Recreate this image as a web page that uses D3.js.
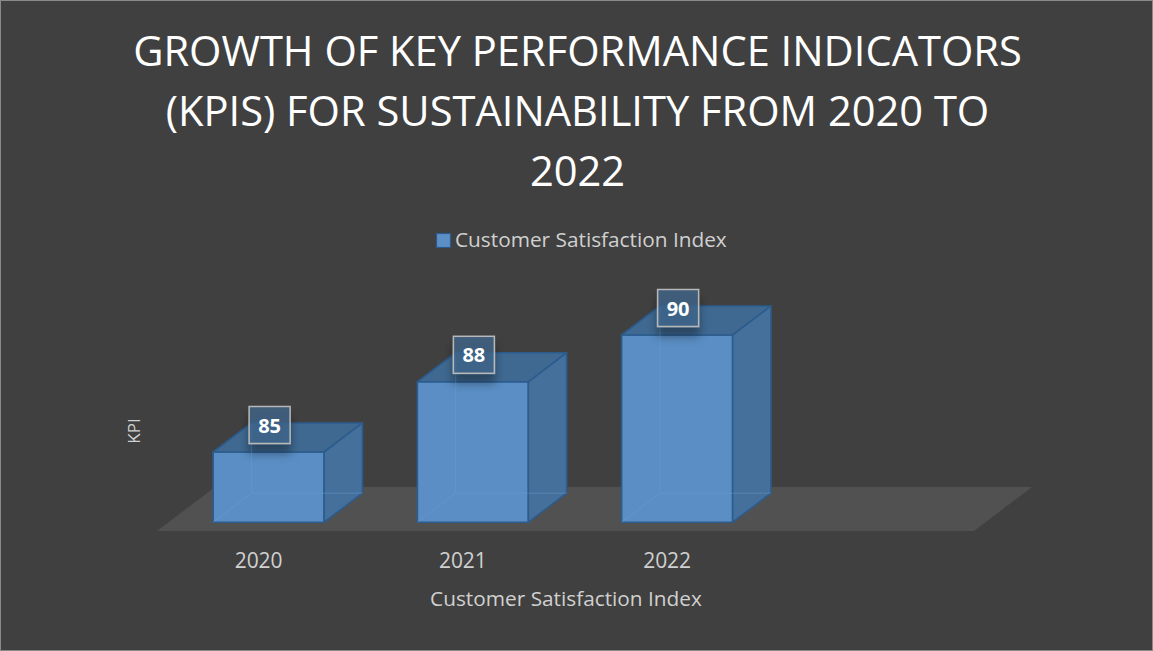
<!DOCTYPE html>
<html>
<head>
<meta charset="utf-8">
<script src="https://cdn.jsdelivr.net/npm/d3@7"></script>
<style>
  html, body { margin: 0; padding: 0; background: #404040; }
  svg { display: block; }
  text { font-family: "Open Sans", "DejaVu Sans", sans-serif; }
</style>
</head>
<body>
<svg id="chart" width="1153" height="651"></svg>
<script>
// ---- data ----
const titleLines = ["GROWTH OF KEY PERFORMANCE INDICATORS", "(KPIS) FOR SUSTAINABILITY FROM 2020 TO", "2022"];
const categories = ["2020", "2021", "2022"];
const values = [85, 88, 90];
const seriesName = "Customer Satisfaction Index";
const xAxisTitle = "Customer Satisfaction Index";
const yAxisTitle = "KPI";
const yDomain = [82, 92];

// ---- layout ----
const W = 1153, H = 651;
const floorLeft = 157, floorFront = 531;
const bandW = 204.25;
const nSlots = 4;
const depthX = 58, depthY = 44;
const d0 = 0.2, d1 = 0.86;
const pxPerUnit = 23.4;

const svg = d3.select("#chart");

const defs = svg.append("defs");
const f = defs.append("filter").attr("id", "shadow").attr("x", "-50%").attr("y", "-50%").attr("width", "200%").attr("height", "250%");
f.append("feDropShadow").attr("dx", 0).attr("dy", 9).attr("stdDeviation", 5).attr("flood-color", "#000").attr("flood-opacity", 0.45);

svg.append("rect").attr("x", 0.5).attr("y", 0.5).attr("width", W - 1).attr("height", H - 1)
  .attr("fill", "#404040").attr("stroke", "#8a8a8a").attr("stroke-width", 1);

const x = d3.scaleBand().domain(categories).range([floorLeft, floorLeft + bandW * categories.length]).paddingInner(0).paddingOuter(0);
const y = d3.scaleLinear().domain(yDomain).range([floorFront, floorFront - pxPerUnit * (yDomain[1] - yDomain[0])]);

// projection of (screenX at front, value, depth fraction)
const P = (sx, v, d) => [sx + depthX * d, y(v) - depthY * d];

// ---- title ----
const titleBaselines = [66, 126, 186];
const tg = svg.append("g");
titleLines.forEach((t, i) => {
  tg.append("text").attr("x", W / 2 + 1).attr("y", titleBaselines[i])
    .attr("text-anchor", "middle").attr("fill", "#ffffff").attr("font-size", 42).text(t);
});
{
  const w0 = tg.select("text").node().getComputedTextLength();
  tg.selectAll("text").attr("font-size", 42 * 889 / w0);
}

// ---- legend ----
const lg = svg.append("g");
lg.append("rect").attr("x", 436.5).attr("y", 233.5).attr("width", 14).attr("height", 14)
  .attr("fill", "#5b8fc6").attr("stroke", "#2b5b8c").attr("stroke-width", 1.2);
const lt = lg.append("text").attr("x", 455).attr("y", 247).attr("fill", "#d0d0d0").attr("font-size", 18).text(seriesName);
{
  const w = lt.node().getComputedTextLength();
  lt.attr("font-size", 18 * 272 / w);
}

// ---- floor ----
const floorRight = floorLeft + bandW * nSlots;
const floorPts = [[floorLeft, floorFront], [floorRight, floorFront], [floorRight + depthX, floorFront - depthY], [floorLeft + depthX, floorFront - depthY]];
svg.append("polygon").attr("points", floorPts.map(p => p.join(",")).join(" ")).attr("fill", "#525151");

// ---- bars ----
const barOff = 0.218, barFrac = 0.5435;
const bars = svg.append("g");
const base = yDomain[0];
categories.forEach((c, i) => {
  const v = values[i];
  const xl = x(c) + x.bandwidth() * barOff;
  const xr = xl + x.bandwidth() * barFrac;
  const g = bars.append("g");
  const poly = (pts, fill) => g.append("polygon").attr("points", pts.map(p => p.join(",")).join(" "))
    .attr("fill", fill).attr("stroke", "#2c5c8e").attr("stroke-width", 1.6).attr("stroke-linejoin", "round");
  // front
  poly([P(xl, base, d0), P(xr, base, d0), P(xr, v, d0), P(xl, v, d0)], "#5a8ec4");
  // top
  poly([P(xl, v, d0), P(xr, v, d0), P(xr, v, d1), P(xl, v, d1)], "#3f6991");
  // side
  poly([P(xr, base, d0), P(xr, base, d1), P(xr, v, d1), P(xr, v, d0)], "#44709b");
  // hidden edges faintly visible
  const he = d3.line();
  const hidden = [
    [P(xl, base, d1), P(xl, v, d1)],
    [P(xl, base, d1), P(xr, base, d1)],
    [P(xl, base, d0), P(xl, base, d1)]
  ];
  hidden.forEach(seg => g.append("path").attr("d", he(seg)).attr("stroke", "#6aa0d8").attr("stroke-opacity", 0.45)
    .attr("stroke-width", 1).attr("fill", "none"));
});

// ---- data labels ----
const labels = svg.append("g");
categories.forEach((c, i) => {
  const v = values[i];
  const xl = x(c) + x.bandwidth() * barOff;
  const front = P(xl, v, d0);
  const cx = front[0] + x.bandwidth() * barFrac / 2 + 1;
  const cy = front[1] - 27;
  const bw = 41, bh = 37;
  labels.append("rect").attr("x", cx - bw / 2).attr("y", cy - bh / 2).attr("width", bw).attr("height", bh)
    .attr("fill", "#40678e").attr("fill-opacity", 0.75).attr("stroke", "#b8b8b8").attr("stroke-width", 1.5)
    .attr("filter", "url(#shadow)");
  labels.append("text").attr("x", cx).attr("y", cy + 7.5).attr("text-anchor", "middle")
    .attr("fill", "#ffffff").attr("font-weight", "bold").attr("font-size", 20).text(v);
});

// ---- x axis labels ----
const xa = svg.append("g");
categories.forEach(c => {
  xa.append("text").attr("x", x(c) + x.bandwidth() / 2 - 0.5).attr("y", 568).attr("text-anchor", "middle")
    .attr("fill", "#d0d0d0").attr("font-size", 18).text(c);
});
{
  const w = xa.select("text").node().getComputedTextLength();
  xa.selectAll("text").attr("font-size", 18 * 48 / w);
}
const xt = svg.append("text").attr("x", 566).attr("y", 606).attr("text-anchor", "middle")
  .attr("fill", "#d0d0d0").attr("font-size", 18).text(xAxisTitle);
{
  const w = xt.node().getComputedTextLength();
  xt.attr("font-size", 18 * 272 / w);
}

// ---- y axis title ----
svg.append("text").attr("transform", "translate(140,431) rotate(-90)").attr("text-anchor", "middle")
  .attr("fill", "#d0d0d0").attr("font-size", 17).text(yAxisTitle);
</script>
</body>
</html>
